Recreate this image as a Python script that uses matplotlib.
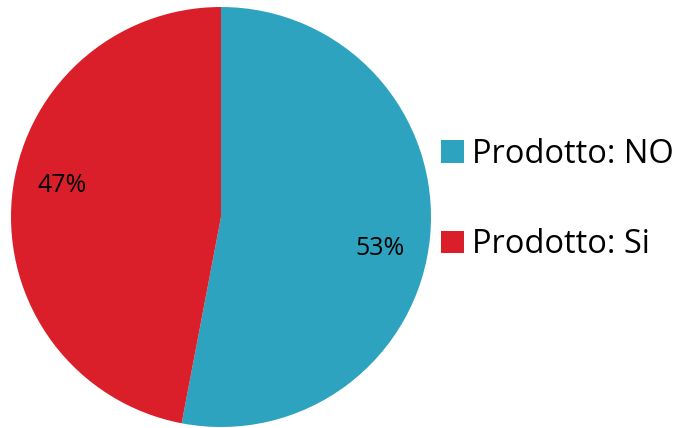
import numpy as np
import matplotlib.pyplot as plt
from matplotlib.patches import Patch

labels = ["Prodotto: NO", "Prodotto: Si"]
values = [53, 47]
colors = ["#2DA3BF", "#DA1F2A"]

plt.rcParams['font.family'] = ['Open Sans', 'DejaVu Sans']

fig = plt.figure(figsize=(6.91, 4.28), dpi=100)
ax = fig.add_axes([11 / 691, 1 / 428, 420 / 691, 420 / 428])
wedges, texts, autotexts = ax.pie(values, colors=colors, startangle=90, counterclock=False,
                                  autopct="%.0f%%", pctdistance=0.77,
                                  textprops={"fontsize": 18, "color": "black"})
# labels in the original sit a little clockwise of the wedge middle
for w, t in zip(wedges, autotexts):
    ang = np.deg2rad((w.theta1 + w.theta2) / 2 - 6)
    t.set_position((0.77 * np.cos(ang), 0.77 * np.sin(ang)))
ax.set_xlim(-1, 1)
ax.set_ylim(-1, 1)
ax.set_aspect("equal")

handles = [Patch(facecolor=c, edgecolor="none") for c in colors]
fig.legend(handles, labels, loc="center left", bbox_to_anchor=(412 / 691, 0.533),
           frameon=False, fontsize=23.5, handlelength=0.7, handleheight=0.7,
           handletextpad=0.25, labelspacing=1.75)

fig.savefig("out.png", dpi=100)
